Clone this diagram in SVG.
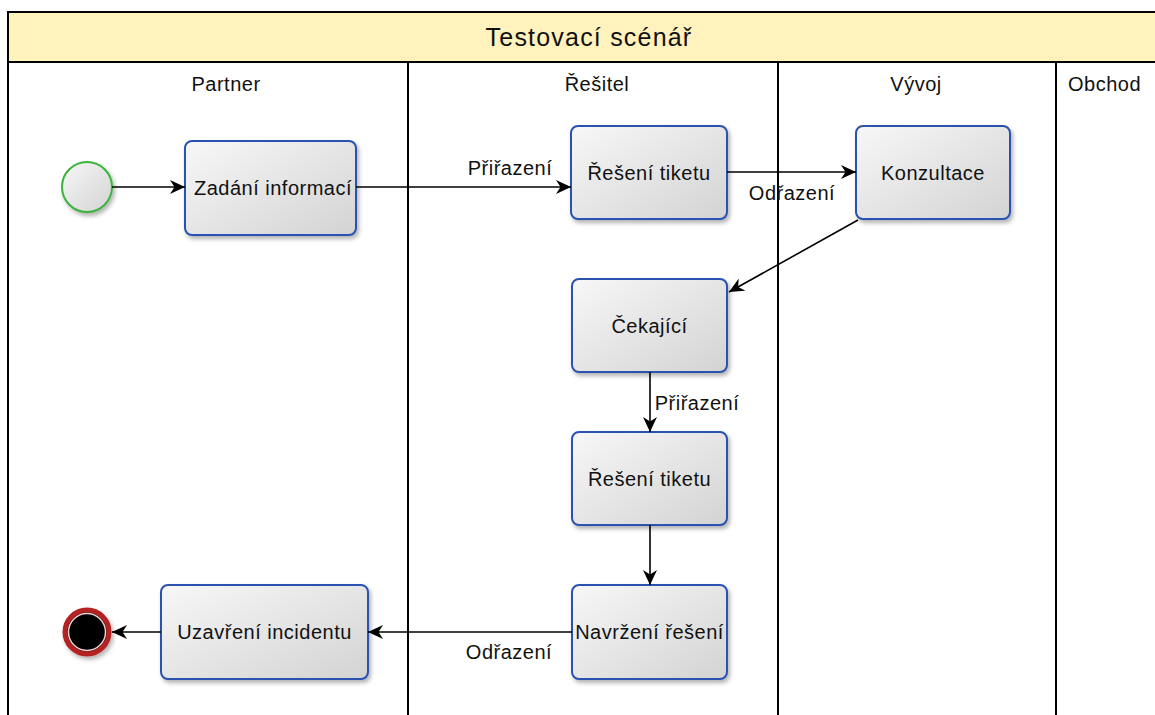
<svg xmlns="http://www.w3.org/2000/svg" width="1155" height="715" viewBox="0 0 1155 715">
<style>
.lane{fill:none;stroke:#000;stroke-width:2}
.lbl{font-family:"Liberation Sans",Arial,sans-serif;font-size:20px;fill:#111;letter-spacing:0.5px}
.title{font-family:"Liberation Sans",Arial,sans-serif;font-size:25px;fill:#111;letter-spacing:1.2px;text-anchor:middle}
.task rect{fill:url(#g);stroke:#2a52b0;stroke-width:2;filter:url(#sh)}
.task text{font-family:"Liberation Sans",Arial,sans-serif;font-size:20px;fill:#111;text-anchor:middle;letter-spacing:0.5px}
.conn{fill:none;stroke:#000;stroke-width:1.6}
.el{font-family:"Liberation Sans",Arial,sans-serif;font-size:20px;fill:#111;text-anchor:middle;letter-spacing:0.5px}
</style>
<defs>
<linearGradient id="g" x1="0" y1="0" x2="1" y2="1">
<stop offset="0" stop-color="#f7f7f7"/>
<stop offset="1" stop-color="#d3d3d3"/>
</linearGradient>
<filter id="sh" x="-10%" y="-10%" width="130%" height="130%">
<feDropShadow dx="2" dy="3" stdDeviation="2" flood-color="#000" flood-opacity="0.3"/>
</filter>
<marker id="ar" markerWidth="16" markerHeight="14" refX="15" refY="7" orient="auto" markerUnits="userSpaceOnUse">
<path d="M0,0 L15,7 L0,14 L4.5,7 Z" fill="#000"/>
</marker>
</defs>
<rect width="1155" height="715" fill="#fff"/>
<g id="pool">
<rect x="8" y="12" width="1160" height="50" fill="#fff2bd" stroke="#000" stroke-width="2"/>
<text x="589" y="46" class="title">Testovací scénář</text>
<line x1="8" y1="62" x2="8" y2="715" class="lane"/>
<line x1="408" y1="62" x2="408" y2="715" class="lane"/>
<line x1="778" y1="62" x2="778" y2="715" class="lane"/>
<line x1="1056" y1="62" x2="1056" y2="715" class="lane"/>
<text x="226" y="91" class="lbl" text-anchor="middle">Partner</text>
<text x="597" y="91" class="lbl" text-anchor="middle">Řešitel</text>
<text x="916" y="91" class="lbl" text-anchor="middle">Vývoj</text>
<text x="1068" y="91" class="lbl">Obchod</text>
</g>
<g id="start">
<circle cx="87" cy="187" r="25" fill="url(#g)" stroke="#3cb33c" stroke-width="2" filter="url(#sh)"/>
</g>
<g id="zadani" class="task"><rect x="185" y="141" width="171" height="94" rx="7"/><text x="273" y="195">Zadání informací</text></g>
<g id="reseni1" class="task"><rect x="571" y="126" width="156" height="93" rx="7"/><text x="649" y="180">Řešení tiketu</text></g>
<g id="konzultace" class="task"><rect x="856" y="126" width="154" height="93" rx="7"/><text x="933" y="180">Konzultace</text></g>
<g id="cekajici" class="task"><rect x="572" y="279" width="155" height="93" rx="7"/><text x="649.5" y="333">Čekající</text></g>
<g id="reseni2" class="task"><rect x="572" y="432" width="155" height="93" rx="7"/><text x="649.5" y="486">Řešení tiketu</text></g>
<g id="navrzeni" class="task"><rect x="572" y="585" width="155" height="94" rx="7"/><text x="649.5" y="639">Navržení řešení</text></g>
<g id="uzavreni" class="task"><rect x="161" y="585" width="207" height="94" rx="7"/><text x="264.5" y="639">Uzavření incidentu</text></g>
<g id="end">
<circle cx="87" cy="632" r="22" fill="#000" stroke="#b52020" stroke-width="5" filter="url(#sh)"/>
<circle cx="87" cy="632" r="18.5" fill="none" stroke="#f0d0d0" stroke-width="1.5"/>
</g>
<g id="connectors">
<line x1="112" y1="187" x2="185" y2="187" class="conn" marker-end="url(#ar)"/>
<line x1="356" y1="187" x2="571" y2="187" class="conn" marker-end="url(#ar)"/>
<text x="510" y="175" class="el">Přiřazení</text>
<line x1="727" y1="172" x2="856" y2="172" class="conn" marker-end="url(#ar)"/>
<text x="792" y="200" class="el">Odřazení</text>
<line x1="858" y1="220" x2="729" y2="292" class="conn" marker-end="url(#ar)"/>
<line x1="650" y1="372" x2="650" y2="432" class="conn" marker-end="url(#ar)"/>
<text x="697" y="410" class="el">Přiřazení</text>
<line x1="650" y1="525" x2="650" y2="585" class="conn" marker-end="url(#ar)"/>
<line x1="572" y1="632" x2="368" y2="632" class="conn" marker-end="url(#ar)"/>
<text x="509" y="659" class="el">Odřazení</text>
<line x1="161" y1="632" x2="112" y2="632" class="conn" marker-end="url(#ar)"/>
</g>
</svg>
